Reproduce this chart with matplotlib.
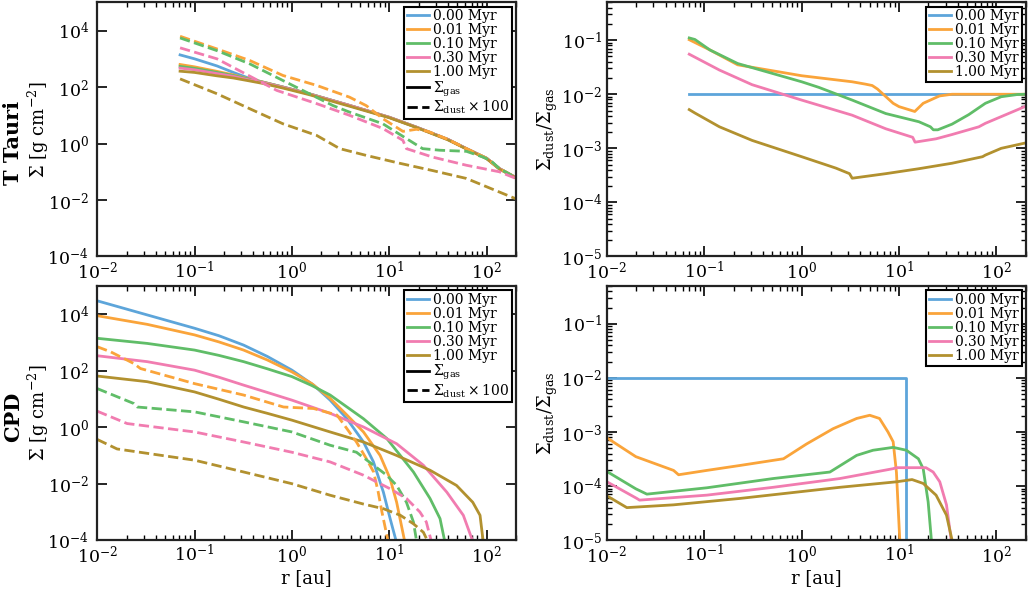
#surface density and dust-to-gas ratio for a T Tauri disc and a CPD
import numpy as np
import matplotlib
matplotlib.use('Agg')
import matplotlib.pyplot as plt
from matplotlib.lines import Line2D
from matplotlib.ticker import LogLocator, NullLocator

plt.rcParams['font.family'] = 'serif'
plt.rcParams['font.serif'] = ['DejaVu Serif']
plt.rcParams['mathtext.fontset'] = 'dejavuserif'

times = ['0.00 Myr', '0.01 Myr', '0.10 Myr', '0.30 Myr', '1.00 Myr']
colors = ['#5DA5DA', '#FAA43A', '#60BD68', '#F17CB0', '#B2912F']

# --- T Tauri: gas surface density [g cm^-2]
tt_gas_r = [0.071, 0.1, 0.17, 0.25, 0.35, 0.5, 0.81, 1.5, 3.9, 10, 19, 40, 62, 100, 135, 200]
tt_gas = [
    [1380, 1000, 560, 330, 215, 150, 100, 58, 22.4, 8.5, 3.8, 1.4, 0.66, 0.3, 0.13, 0.062],
    [630, 520, 360, 270, 200, 152, 100, 58, 22.4, 8.5, 3.8, 1.4, 0.66, 0.3, 0.13, 0.062],
    [540, 460, 330, 255, 195, 150, 100, 58, 22.4, 8.5, 3.8, 1.4, 0.66, 0.3, 0.13, 0.062],
    [470, 410, 300, 240, 185, 146, 98, 57, 22.4, 8.5, 3.8, 1.4, 0.66, 0.3, 0.13, 0.062],
    [365, 330, 250, 210, 170, 135, 92, 54, 21, 8.2, 3.7, 1.35, 0.64, 0.29, 0.125, 0.06],
]

# --- T Tauri: dust surface density x 100 (0.00 Myr is hidden under the gas)
tt_dust_r = [
    [],
    [0.071, 0.17, 0.37, 0.81, 1.79, 3.9, 5.8, 8.6, 13.8, 19, 25, 40, 62, 100, 135, 200],
    [0.071, 0.17, 0.37, 0.81, 2.65, 3.9, 8.6, 15, 22, 33, 62, 92, 110, 135, 200],
    [0.071, 0.17, 0.7, 1.79, 3.9, 8.6, 13.8, 15, 28, 62, 135, 200],
    [0.071, 0.17, 0.37, 0.81, 1.79, 3.1, 5.8, 12.8, 28, 62, 200],
]
tt_dust = [
    [],
    [6300, 2240, 870, 257, 115, 44, 22, 7.6, 2.7, 3.2, 2.7, 1.4, 0.66, 0.3, 0.13, 0.062],
    [5500, 1950, 660, 170, 22, 13, 5, 1.5, 0.66, 0.58, 0.53, 0.33, 0.25, 0.13, 0.062],
    [2450, 1000, 76, 26, 10, 3.4, 1.3, 0.66, 0.33, 0.17, 0.1, 0.058],
    [195, 58, 17, 5, 1.95, 0.66, 0.38, 0.2, 0.11, 0.058, 0.011],
]

# --- T Tauri: dust-to-gas ratio
tt_ratio_r = [
    [0.07, 200],
    [0.07, 0.114, 0.22, 1.0, 3.3, 4.5, 5.3, 6.0, 8.7, 10, 14.5, 17.7, 26, 35, 200],
    [0.07, 0.08, 0.114, 0.22, 1.0, 1.5, 3.3, 7.3, 16, 21, 22.5, 25, 35, 52, 77, 112, 165, 200],
    [0.07, 0.143, 0.31, 1.0, 3.3, 7.3, 13.8, 14.6, 24, 35, 66, 77, 200],
    [0.07, 0.08, 0.143, 0.31, 1.0, 2.25, 3.1, 3.3, 7.3, 16, 35, 72, 77, 112, 200],
]
tt_ratio = [
    [0.01, 0.01],
    [0.102, 0.066, 0.035, 0.022, 0.017, 0.0154, 0.0145, 0.0125, 0.0068, 0.0059, 0.0048, 0.0068, 0.0093, 0.01, 0.01],
    [0.11, 0.103, 0.066, 0.037, 0.017, 0.0134, 0.0078, 0.0044, 0.0031, 0.0025, 0.0022, 0.0022, 0.0028, 0.0042, 0.0068, 0.009, 0.0099, 0.01],
    [0.055, 0.028, 0.015, 0.0078, 0.0041, 0.0023, 0.0016, 0.0013, 0.0015, 0.0018, 0.0025, 0.0029, 0.006],
    [0.0052, 0.0045, 0.0025, 0.0014, 0.0007, 0.00043, 0.00034, 0.00028, 0.00034, 0.00042, 0.00053, 0.0007, 0.00075, 0.001, 0.00126],
]

# --- CPD: gas surface density
cpd_gas_r = [
    [0.01, 0.0326, 0.1, 0.178, 0.319, 0.56, 1.0, 1.67, 2.47, 3.67, 5.43, 6.88, 8.7, 10.2, 11.9],
    [0.01, 0.0326, 0.1, 0.178, 0.319, 0.56, 1.0, 1.6, 2.47, 3.67, 5.43, 8.05, 10.2, 11.9, 14.5],
    [0.01, 0.0326, 0.1, 0.178, 0.319, 0.56, 1.0, 1.6, 2.47, 5.43, 9.42, 17.7, 26.2, 33.2, 37.4],
    [0.01, 0.0326, 0.1, 0.178, 0.319, 0.56, 1.0, 2.47, 5.43, 11.9, 22.4, 39, 57.6, 73],
    [0.01, 0.0326, 0.1, 0.178, 0.319, 0.56, 1.0, 2.47, 5.43, 11.9, 26.2, 49, 72, 85.5, 92.5],
]
cpd_gas = [
    [30000, 9500, 3200, 1740, 810, 320, 105, 31, 9.1, 2.0, 0.30, 0.059, 0.005, 0.00058, 0.00008],
    [8900, 4400, 1860, 1050, 540, 240, 91, 35, 10.5, 2.7, 0.68, 0.10, 0.015, 0.0022, 0.00008],
    [1410, 930, 540, 350, 210, 117, 62, 30, 13.8, 2.0, 0.4, 0.026, 0.003, 0.00058, 0.00008],
    [340, 210, 105, 59, 31, 17, 9.1, 3.1, 1.02, 0.26, 0.045, 0.005, 0.00076, 0.00008],
    [65, 41, 17.8, 9.8, 5.2, 3.1, 1.78, 0.68, 0.30, 0.10, 0.030, 0.0087, 0.0022, 0.00076, 0.00008],
]

# --- CPD: dust surface density x 100
cpd_dust_r = [
    [],
    [0.01, 0.0137, 0.0238, 0.0278, 0.1, 0.319, 0.82, 1.67, 2.9, 3.67, 4.6, 5.8, 6.9, 7.7, 8.4, 9.8],
    [0.01, 0.0238, 0.0258, 0.1, 0.319, 1.0, 2.47, 4.6, 6.9, 9.4, 11.9, 15, 17.7, 19.2],
    [0.01, 0.0203, 0.1, 0.319, 1.0, 2.47, 5.43, 10.2, 15, 20.6, 24, 27.3],
    [0.01, 0.016, 0.1, 0.319, 1.0, 2.47, 5.43, 8.7, 13, 17.7, 22.4, 25.3],
]
cpd_dust = [
    [],
    [710, 470, 180, 120, 35, 13.8, 5.2, 4.6, 2.7, 0.89, 0.30, 0.078, 0.026, 0.005, 0.001, 0.00008],
    [23.4, 6.9, 5.2, 3.5, 1.55, 0.68, 0.23, 0.13, 0.045, 0.02, 0.0087, 0.0022, 0.00044, 0.00008],
    [3.7, 1.35, 0.68, 0.30, 0.13, 0.059, 0.02, 0.0066, 0.003, 0.001, 0.00044, 0.00008],
    [0.37, 0.17, 0.068, 0.026, 0.01, 0.0039, 0.0019, 0.0013, 0.00076, 0.00038, 0.00019, 0.00008],
]

# --- CPD: dust-to-gas ratio
cpd_ratio_r = [
    [0.01, 11.9, 11.9],
    [0.01, 0.0198, 0.0483, 0.0544, 0.106, 0.23, 0.65, 1.12, 2.1, 3.67, 5.0, 6.3, 7.7, 8.7, 9.4, 10.2],
    [0.01, 0.0198, 0.0257, 0.106, 0.51, 1.95, 3.67, 5.4, 8.7, 11.9, 15.8, 17.7, 19.9, 21.6],
    [0.01, 0.0203, 0.0216, 0.106, 0.51, 2.47, 8.7, 9.4, 18.9, 22.4, 26.2, 30.7, 34.6],
    [0.01, 0.016, 0.0483, 0.23, 2.47, 9.4, 13.6, 17.7, 24, 30.7, 35.5],
]
cpd_ratio = [
    [0.01, 0.01, 1e-6],
    [7.8e-4, 3.5e-4, 1.95e-4, 1.62e-4, 1.95e-4, 2.4e-4, 3.2e-4, 6.0e-4, 1.15e-3, 1.78e-3, 2.04e-3, 1.78e-3, 1.0e-3, 6.6e-4, 1.8e-4, 9e-6],
    [1.86e-4, 8.9e-5, 7.1e-5, 9.3e-5, 1.38e-4, 1.82e-4, 3.7e-4, 4.6e-4, 5.2e-4, 4.6e-4, 3.2e-4, 2.1e-4, 5.1e-5, 9e-6],
    [1.2e-4, 5.9e-5, 5.5e-5, 6.8e-5, 9.5e-5, 1.38e-4, 2.1e-4, 2.19e-4, 2.19e-4, 1.82e-4, 1.2e-4, 4.5e-5, 9e-6],
    [6.6e-5, 4.0e-5, 4.5e-5, 5.9e-5, 9.5e-5, 1.2e-4, 1.32e-4, 1.12e-4, 6.8e-5, 2.9e-5, 9e-6],
]

fig = plt.figure(figsize=(10.34, 5.91), dpi=100)
ax_tl = fig.add_axes([0.094, 0.566, 0.405, 0.430])
ax_tr = fig.add_axes([0.587, 0.566, 0.405, 0.430])
ax_bl = fig.add_axes([0.094, 0.086, 0.405, 0.430])
ax_br = fig.add_axes([0.587, 0.086, 0.405, 0.430])

lw = 2.0
for i in range(5):
    ax_tl.plot(tt_gas_r, tt_gas[i], color=colors[i], lw=lw, label=times[i])
    ax_tr.plot(tt_ratio_r[i], tt_ratio[i], color=colors[i], lw=lw, label=times[i])
    ax_bl.plot(cpd_gas_r[i], cpd_gas[i], color=colors[i], lw=lw, label=times[i])
    ax_br.plot(cpd_ratio_r[i], cpd_ratio[i], color=colors[i], lw=lw, label=times[i])
for i in range(1, 5):
    ax_tl.plot(tt_dust_r[i], tt_dust[i], color=colors[i], lw=lw, ls='--')
    ax_bl.plot(cpd_dust_r[i], cpd_dust[i], color=colors[i], lw=lw, ls='--')

for ax in [ax_tl, ax_tr, ax_bl, ax_br]:
    ax.set_xscale('log')
    ax.set_yscale('log')
    ax.set_xlim(1e-2, 200)
    ax.tick_params(which='both', direction='in', top=True, right=True, labelsize=12.5)
    ax.tick_params(which='major', length=7, width=1.2)
    ax.tick_params(which='minor', length=3.5, width=1)
    ax.tick_params(axis='x', pad=3)
    for s in ax.spines.values():
        s.set_linewidth(1.6)
        s.set_color('#222222')

legkw = dict(loc='upper right', fontsize=10, labelspacing=0.0, handlelength=1.6,
             handletextpad=0.3, borderpad=0.2, borderaxespad=0.3, fancybox=False, framealpha=1)

for ax in [ax_tl, ax_bl]:
    ax.set_ylim(1e-4, 1e5)
    ax.yaxis.set_major_locator(LogLocator(base=100.0))
    ax.yaxis.set_minor_locator(NullLocator())
    ax.tick_params(axis='y', pad=6)
    ax.set_ylabel(r'$\Sigma$ [g cm$^{-2}$]', fontsize=13)
    ax.yaxis.set_label_coords(-0.11, 0.5)
    h, l = ax.get_legend_handles_labels()
    h += [Line2D([], [], color='k', lw=lw), Line2D([], [], color='k', lw=lw, ls='--')]
    l += [r'$\Sigma_{\rm gas}$', r'$\Sigma_{\rm dust}\times 100$']
    leg = ax.legend(h, l, **legkw)
    leg.get_frame().set_edgecolor('k')
    leg.get_frame().set_linewidth(1.5)

for ax in [ax_tr, ax_br]:
    ax.set_ylim(1e-5, 0.5)
    ax.set_ylabel(r'$\Sigma_{\rm dust}/\Sigma_{\rm gas}$', fontsize=13)
    ax.yaxis.set_label_coords(-0.112, 0.5)
    leg = ax.legend(**legkw)
    leg.get_frame().set_edgecolor('k')
    leg.get_frame().set_linewidth(1.5)

ax_bl.set_xlabel('r [au]', fontsize=13, labelpad=2)
ax_br.set_xlabel('r [au]', fontsize=13, labelpad=2)

fig.text(0.0125, 0.758, 'T Tauri', rotation=90, fontsize=15, fontweight='bold', ha='center', va='center')
fig.text(0.0125, 0.295, 'CPD', rotation=90, fontsize=15, fontweight='bold', ha='center', va='center')

plt.savefig('out.png', dpi=100)
